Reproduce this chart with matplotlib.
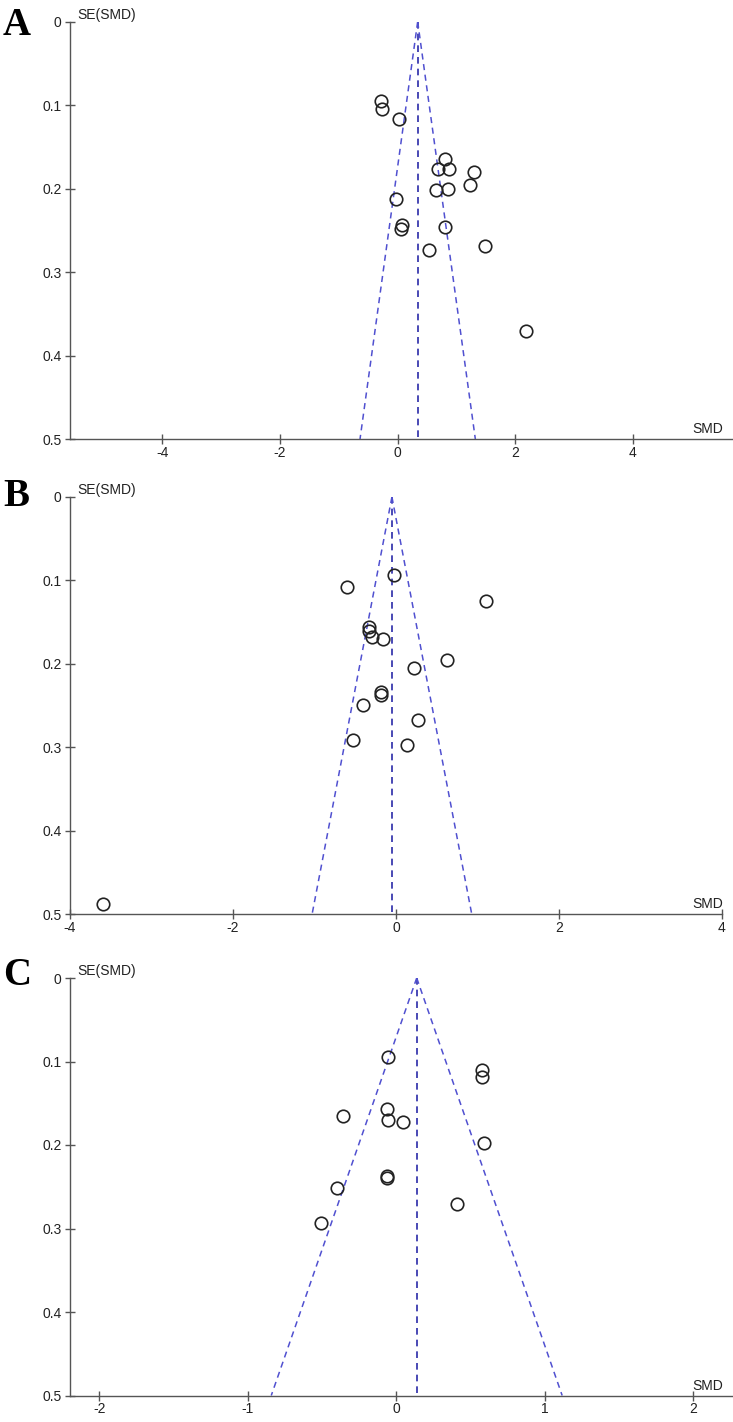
import matplotlib
matplotlib.use("Agg")
import matplotlib.pyplot as plt

plt.rcParams['font.family'] = ['Liberation Sans', 'DejaVu Sans']

# panel A
a_smd = [-0.28, -0.26, 0.02, 0.81, 0.69, 0.87, 1.29, 1.23, 0.65, 0.85,
         -0.02, 0.08, 0.05, 0.81, 0.54, 1.49, 2.18]
a_se = [0.095, 0.105, 0.117, 0.165, 0.176, 0.177, 0.180, 0.196, 0.202, 0.201,
        0.212, 0.243, 0.248, 0.246, 0.274, 0.269, 0.371]
a_center = 0.34
a_ticks = [-4, -2, 0, 2, 4]

# panel B
b_smd = [-0.02, -0.60, 1.10, -0.33, -0.33, -0.30, -0.16, 0.62, 0.22, -0.18,
         -0.18, -0.41, 0.27, -0.53, 0.14, -3.59]
b_se = [0.093, 0.108, 0.124, 0.156, 0.160, 0.168, 0.170, 0.195, 0.205, 0.234,
        0.237, 0.249, 0.267, 0.291, 0.297, 0.487]
b_center = -0.05
b_ticks = [-4, -2, 0, 2, 4]

# panel C
c_smd = [-0.054, 0.577, 0.577, -0.359, -0.063, -0.054, 0.049, 0.59, -0.063,
         -0.063, -0.397, 0.409, -0.503]
c_se = [0.095, 0.110, 0.119, 0.165, 0.157, 0.170, 0.172, 0.198, 0.237, 0.240,
        0.251, 0.271, 0.294]
c_center = 0.139
c_ticks = [-2, -1, 0, 1, 2]

se_ticks = [0, 0.1, 0.2, 0.3, 0.4, 0.5]
se_labels = ['0', '0.1', '0.2', '0.3', '0.4', '0.5']

W, H = 733, 1422
axis_col = '#555555'


def funnel(ax, smd, se, center, xticks, xlim):
    # pseudo 95% limits: center +/- 1.96*SE
    ax.plot([center, center], [0, 0.5], color='#2a2aa8', lw=1.2,
            linestyle=(0, (4, 3)), zorder=1)
    ax.plot([center, center - 1.96 * 0.5], [0, 0.5], color='#5050d0', lw=1.1,
            linestyle=(0, (4, 3)), zorder=1)
    ax.plot([center, center + 1.96 * 0.5], [0, 0.5], color='#5050d0', lw=1.1,
            linestyle=(0, (4, 3)), zorder=1)
    ax.plot(smd, se, 'o', mfc='none', mec='#222222', mew=1.2, ms=9,
            clip_on=False, zorder=3)

    ax.set_xlim(*xlim)
    ax.set_ylim(0.5, 0)
    ax.set_xticks(xticks)
    ax.set_xticklabels([str(t) for t in xticks])
    ax.set_yticks(se_ticks)
    ax.set_yticklabels(se_labels)
    for s in ['top', 'right']:
        ax.spines[s].set_visible(False)
    for s in ['left', 'bottom']:
        ax.spines[s].set_color(axis_col)
        ax.spines[s].set_linewidth(1.0)
    ax.tick_params(direction='inout', length=7, width=1.0, color=axis_col,
                   labelsize=10, labelcolor='#222222')
    ax.tick_params(axis='y', pad=2.5)
    ax.tick_params(axis='x', pad=1.5)
    ax.text(0.011, 1.0, 'SE(SMD)', transform=ax.transAxes, fontsize=10,
            ha='left', va='bottom', color='#222222')


fig = plt.figure(figsize=(W / 100, H / 100), dpi=100)


def add_axes(left, right, top, bottom):
    return fig.add_axes([left / W, 1 - bottom / H, (right - left) / W, (bottom - top) / H])


ax1 = add_axes(70, 733, 21.7, 439)
funnel(ax1, a_smd, a_se, a_center, a_ticks, (-5.57, 5.70))
ax2 = add_axes(70, 722, 497, 914.4)
funnel(ax2, b_smd, b_se, b_center, b_ticks, (-4, 4))
ax3 = add_axes(70, 733, 978, 1395.5)
funnel(ax3, c_smd, c_se, c_center, c_ticks, (-2.197, 2.27))

# SMD labels at right end of x axis
for bottom in [439, 914.4, 1395.5]:
    fig.text(723 / W, 1 - (bottom - 3) / H, 'SMD', fontsize=10, ha='right',
             va='bottom', color='#222222')

for letter, base in [('A', 35), ('B', 506), ('C', 985)]:
    fig.text(3 / W, 1 - base / H, letter, fontsize=28, fontweight='bold',
             family='Liberation Serif', ha='left', va='baseline')

fig.savefig('out.png', dpi=100, facecolor='white')
